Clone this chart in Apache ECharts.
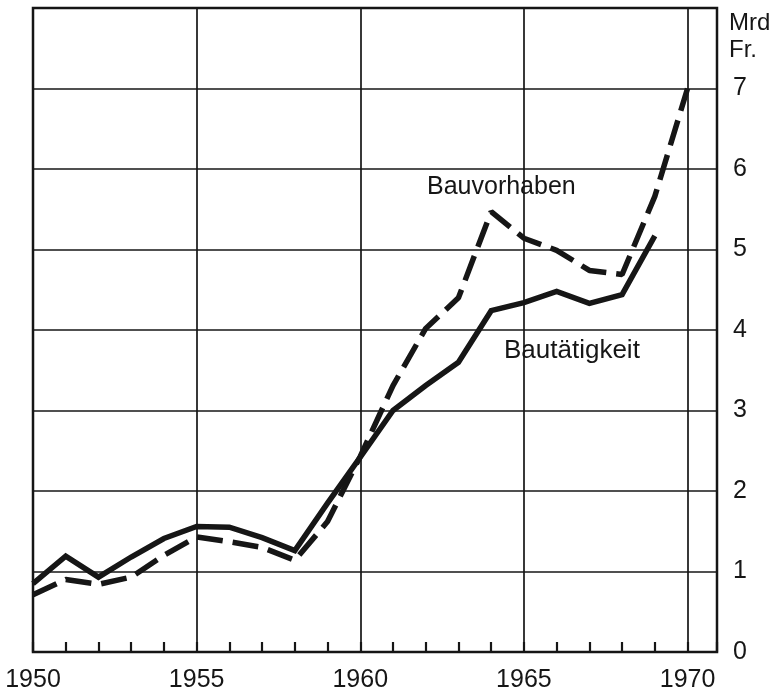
<!DOCTYPE html>
<html>
<head>
<meta charset="utf-8">
<script src="https://cdn.jsdelivr.net/npm/echarts@6/dist/echarts.min.js"></script>
<style>
html,body{margin:0;padding:0;background:#fff;}
#chart{width:775px;height:695px;}
</style>
</head>
<body>
<div id="chart"></div>
<script>
// Data
const years = [1950,1951,1952,1953,1954,1955,1956,1957,1958,1959,1960,1961,1962,1963,1964,1965,1966,1967,1968,1969,1970];
const bautaetigkeit = [0.85,1.19,0.93,1.18,1.41,1.56,1.55,1.42,1.26,1.85,2.42,3.0,3.31,3.6,4.24,4.34,4.48,4.33,4.44,5.17];
const bauvorhaben = [0.71,0.9,0.84,0.93,1.2,1.43,1.37,1.3,1.14,1.62,2.43,3.31,4.02,4.4,5.47,5.14,4.99,4.74,4.69,5.66,7.0];
const xTickLabels = ['1950','1955','1960','1965','1970'];
const yTickLabels = ['0','1','2','3','4','5','6','7'];
const seriesNames = ['Bautätigkeit','Bauvorhaben'];
const unitLabel = ['Mrd','Fr.'];

const FONT = '"Liberation Sans", Arial, sans-serif';
const INK = '#161616';

const chart = echarts.init(document.getElementById('chart'), null, {renderer:'canvas'});
const pairs = (vals) => vals.map((v,i)=>[years[i], v]);

chart.setOption({
  animation:false,
  backgroundColor:'#fff',
  grid:{left:33, top:8, right:58, bottom:43, show:true, borderColor:INK, borderWidth:2.5, backgroundColor:'transparent'},
  xAxis:[{
    type:'value', min:1950, max:1970.9, interval:5,
    axisLine:{show:false},
    axisTick:{show:false},
    splitLine:{show:true, lineStyle:{color:INK, width:1.7}},
    axisLabel:{
      showMaxLabel:false, margin:16,
      fontFamily:FONT, fontSize:25, color:INK,
      formatter:(v)=>{const i=xTickLabels.indexOf(String(Math.round(v))); return i>=0 && Math.abs(v-Math.round(v))<1e-6 ? xTickLabels[i] : '';}
    }
  },{
    type:'value', min:1950, max:1970.9, interval:1, position:'bottom',
    axisLine:{show:false},
    axisTick:{show:true, inside:true, length:10, lineStyle:{color:INK, width:2.2}},
    axisLabel:{show:false},
    splitLine:{show:false}
  }],
  yAxis:{
    type:'value', position:'right', min:0, max:8, interval:1,
    axisLine:{show:false}, axisTick:{show:false},
    splitLine:{show:true, lineStyle:{color:INK, width:1.7}},
    axisLabel:{
      showMaxLabel:false, margin:16,
      fontFamily:FONT, fontSize:25, color:INK,
      formatter:(v)=>yTickLabels[v] !== undefined ? yTickLabels[v] : ''
    }
  },
  series:[{
    name:seriesNames[0], type:'line', data:pairs(bautaetigkeit),
    symbol:'none', lineStyle:{color:INK, width:5.5, join:'miter'}
  },{
    name:seriesNames[1], type:'line', data:pairs(bauvorhaben),
    symbol:'none', lineStyle:{color:INK, width:5.5, type:[26,10]}
  }],
  graphic:[
    {type:'text', left:729, top:10, style:{text:unitLabel.join('\n'), font:'24px '+FONT, fill:INK, lineHeight:27}},
    {type:'text', left:427, top:175, style:{text:seriesNames[1], font:'25px '+FONT, fill:INK}},
    {type:'text', left:504, top:338, style:{text:seriesNames[0], font:'26px '+FONT, fill:INK}}
  ]
});
</script>
</body>
</html>
